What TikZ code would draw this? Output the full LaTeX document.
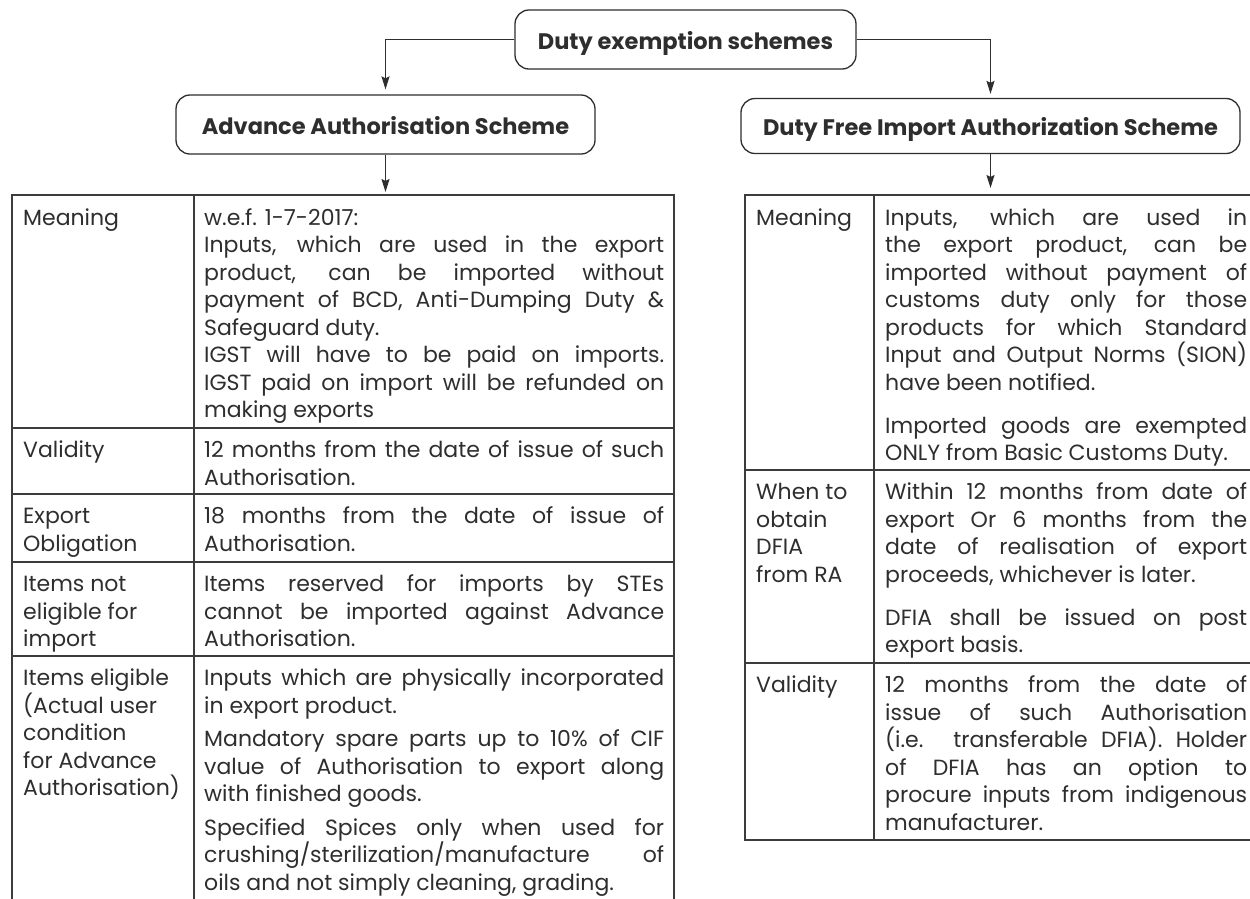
\documentclass[tikz,border=0pt]{standalone}
\usepackage{fontspec}
\setmainfont{Poppins}
\usetikzlibrary{arrows.meta}
\definecolor{ink}{HTML}{2E2E2E}
\definecolor{rulec}{HTML}{3C3C3C}
\newcommand{\J}[1]{\makebox[\linewidth][s]{#1}\par}
\newcommand{\Lst}[1]{#1\par}
\newcommand{\GapR}{\vspace{15.5pt}}
\newcommand{\GapL}{\vspace{6pt}}
\newcommand{\cellbox}[2]{\begin{minipage}[t]{#1}\fontsize{22pt}{27.5pt}\selectfont\parindent0pt\parskip0pt #2\end{minipage}}
\tikzset{
  hbox/.style={draw=ink, line width=1.3pt, rounded corners=14pt, inner sep=0pt,
    font=\fontsize{22.5pt}{25pt}\selectfont\bfseries, text=ink, text height=19.5pt, text depth=0pt},
  conn/.style={draw=ink, line width=1.3pt},
  arr/.style={-{Stealth[length=13pt,width=8pt,inset=2pt]}},
  tbl/.style={draw=rulec, line width=1.4pt},
  cell/.style={anchor=base west, inner sep=0pt, text=ink}
}
\begin{document}
\begin{tikzpicture}[x=1pt,y=-1pt]
\useasboundingbox (0,0) rectangle (1250,898);
\fill[white] (0,0) rectangle (1250,898);

% heading boxes
\node[hbox, minimum width=341pt, minimum height=59pt] (top) at (685.5,39.5) {Duty exemption schemes};
\node[hbox, minimum width=419pt, minimum height=59pt] (aas) at (385.5,124.5) {Advance Authorisation Scheme};
\node[hbox, minimum width=499pt, minimum height=55pt] (dfia) at (990.5,126) {Duty Free Import Authorization Scheme};

\coordinate (ltab) at (385.5,195);
\coordinate (rtab) at (990.5,195);

% connectors
\draw[conn,arr,shorten >=5pt] (top.west) -| (aas.north);
\draw[conn,arr,shorten >=4pt] (top.east) -| (dfia.north);
\draw[conn,arr,shorten >=3pt] (aas.south) -- (ltab);
\draw[conn,arr,shorten >=7pt] (dfia.south) -- (rtab);

% left table grid
\draw[tbl] (12,910) -- (12,195) -- (674,195) -- (674,910);
\draw[tbl] (194,195) -- (194,910);
\foreach \y in {428,494,562,656} \draw[tbl] (12,\y) -- (674,\y);

% right table grid
\draw[tbl] (1262,195) -- (745,195) -- (745,840) -- (1262,840);
\draw[tbl] (874,195) -- (874,840);
\foreach \y in {470,663} \draw[tbl] (745,\y) -- (1262,\y);

% left table text
\node[cell] (la1) at (23,225) {\cellbox{167pt}{Meaning}};
\node[cell] (lb1) at (204,225) {\cellbox{460pt}{%
\Lst{w.e.f. 1-7-2017:}
\J{Inputs, which are used in the export}
\J{product, can be imported without}
\J{payment of BCD, Anti-Dumping Duty \&}
\Lst{Safeguard duty.}
\J{IGST will have to be paid on imports.}
\J{IGST paid on import will be refunded on}
\Lst{making exports}}};

\node[cell] (la2) at (23,457.5) {\cellbox{167pt}{Validity}};
\node[cell] (lb2) at (204,457.5) {\cellbox{460pt}{%
\J{12 months from the date of issue of such}
\Lst{Authorisation.}}};

\node[cell] (la3) at (23,523.5) {\cellbox{167pt}{Export\par Obligation}};
\node[cell] (lb3) at (204,523.5) {\cellbox{460pt}{%
\J{18 months from the date of issue of}
\Lst{Authorisation.}}};

\node[cell] (la4) at (23,591.5) {\cellbox{167pt}{Items not\par eligible for\par import}};
\node[cell] (lb4) at (204,591.5) {\cellbox{460pt}{%
\J{Items reserved for imports by STEs}
\J{cannot be imported against Advance}
\Lst{Authorisation.}}};

\node[cell] (la5) at (23,685.5) {\cellbox{167pt}{Items eligible\par (Actual user\par condition\par for Advance\par Authorisation)}};
\node[cell] (lb5) at (204,685.5) {\cellbox{460pt}{%
\J{Inputs which are physically incorporated}
\Lst{in export product.}
\GapL
\J{Mandatory spare parts up to 10\% of CIF}
\J{value of Authorisation to export along}
\Lst{with finished goods.}
\GapL
\J{Specified Spices only when used for}
\J{crushing/sterilization/manufacture of}
\Lst{oils and not simply cleaning, grading.}}};

% right table text
\node[cell] (ra1) at (756,225) {\cellbox{114pt}{Meaning}};
\node[cell] (rb1) at (885,225) {\cellbox{362pt}{%
\J{Inputs, which are used in}
\J{the export product, can be}
\J{imported without payment of}
\J{customs duty only for those}
\J{products for which Standard}
\J{Input and Output Norms (SION)}
\Lst{have been notified.}
\GapR
\J{Imported goods are exempted}
\Lst{ONLY from Basic Customs Duty.}}};

\node[cell] (ra2) at (756,499.5) {\cellbox{114pt}{When to\par obtain\par DFIA\par from RA}};
\node[cell] (rb2) at (885,499.5) {\cellbox{362pt}{%
\J{Within 12 months from date of}
\J{export Or 6 months from the}
\J{date of realisation of export}
\Lst{proceeds, whichever is later.}
\GapR
\J{DFIA shall be issued on post}
\Lst{export basis.}}};

\node[cell] (ra3) at (756,692.5) {\cellbox{114pt}{Validity}};
\node[cell] (rb3) at (885,692.5) {\cellbox{362pt}{%
\J{12 months from the date of}
\J{issue of such Authorisation}
\J{(i.e. transferable DFIA). Holder}
\J{of DFIA has an option to}
\J{procure inputs from indigenous}
\Lst{manufacturer.}}};
\end{tikzpicture}
\end{document}
